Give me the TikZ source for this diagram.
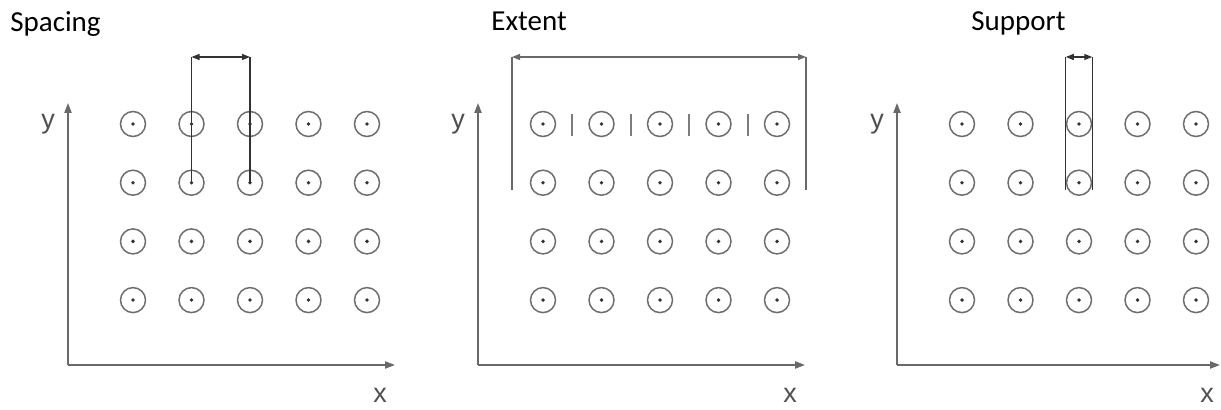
\documentclass[tikz,border=0pt]{standalone}
\usepackage{fontspec}
\setmainfont{Carlito}
\newfontfamily\axfont{Liberation Sans}
\usetikzlibrary{arrows.meta,calc}
\definecolor{ink}{RGB}{50,50,50}
\definecolor{axisc}{RGB}{105,105,105}
\definecolor{ringc}{RGB}{110,110,110}
\definecolor{barc}{RGB}{125,125,125}
\definecolor{axtext}{RGB}{80,80,80}
\tikzset{
  site/.style={circle,draw=ringc,line width=0.75pt,minimum size=12.5pt,inner sep=0pt},
  ax/.style={draw=axisc,line width=0.8pt,-{Triangle[length=5pt,width=3.6pt]}},
  dim/.style={draw=ink,line width=0.7pt},
  dimar/.style={draw=ink,line width=0.7pt,
    {Triangle[length=4pt,width=3pt]}-{Triangle[length=4pt,width=3pt]}},
}
% 5 x 4 grid of sample sites, names #1-col-row
\newcommand{\lattice}[1]{%
  \foreach \col in {1,...,5}{%
    \foreach \row in {1,...,4}{%
      \node[site] (#1-\col-\row) at ({6.5+58.5*\col},{-299.7+58.7*\row}) {};
      \fill[ink] (#1-\col-\row.center) circle (0.95pt);
    }}}

\begin{document}
\begin{tikzpicture}[x=0.5pt,y=-0.5pt,
  ttl/.style={anchor=base west,inner sep=0pt,font=\fontsize{14.5}{17}\selectfont},
  axl/.style={inner sep=0pt,text=axtext,font=\axfont\fontsize{13.5}{15}\selectfont},
  bar/.style={draw=barc,line width=0.8pt}]
  \useasboundingbox (0,0) rectangle (1221,410);
  % titles
  \node[ttl] (tsp) at (10,32)  {Spacing};
  \node[ttl] (tex) at (491,31) {Extent};
  \node[ttl] (tsu) at (971,31) {Support};
  % left panel : spacing
  \begin{scope}[shift={(68,365)}]
    \coordinate (sp-o) at (0,0);
    \coordinate (sp-y) at (0,-262);
    \coordinate (sp-x) at (327,0);
    \coordinate (sp-top) at (0,-308);
    \draw[ax] (sp-o) -- (sp-y);
    \draw[ax] (sp-o) -- (sp-x);
    \node[axl] (sp-ly) at (-20,-241) {y};
    \node[axl] (sp-lx) at (312,30) {x};
    \lattice{sp}
    \draw[dim] (sp-2-2.center) -- (sp-2-2.center |- sp-top) coordinate (sp-l);
    \draw[dim] (sp-3-2.center) -- (sp-3-2.center |- sp-top) coordinate (sp-r);
    \draw[dimar] (sp-l) -- (sp-r);
  \end{scope}
  % middle panel : extent
  \begin{scope}[shift={(478,365)}]
    \coordinate (ex-o) at (0,0);
    \coordinate (ex-y) at (0,-262);
    \coordinate (ex-x) at (327,0);
    \draw[ax] (ex-o) -- (ex-y);
    \draw[ax] (ex-o) -- (ex-x);
    \node[axl] (ex-ly) at (-20,-241) {y};
    \node[axl] (ex-lx) at (312,30) {x};
    \lattice{ex}
    \coordinate (ex-lb) at (34,-175);
    \coordinate (ex-lt) at (34,-308);
    \coordinate (ex-rb) at (328,-175);
    \coordinate (ex-rt) at (328,-308);
    \draw[dim,axisc] (ex-lb) -- (ex-lt);
    \draw[dim,axisc] (ex-rb) -- (ex-rt);
    \draw[dimar,axisc] (ex-lt) -- (ex-rt);
    \foreach \k [count=\n from 2] in {1,...,4}
      \draw[bar] ($(ex-\k-1)!0.5!(ex-\n-1)+(0,-10)$) -- ++(0,22);
  \end{scope}
  % right panel : support
  \begin{scope}[shift={(897,365)}]
    \coordinate (su-o) at (0,0);
    \coordinate (su-y) at (0,-262);
    \coordinate (su-x) at (323,0);
    \coordinate (su-top) at (0,-308);
    \draw[ax] (su-o) -- (su-y);
    \draw[ax] (su-o) -- (su-x);
    \node[axl] (su-ly) at (-20,-241) {y};
    \node[axl] (su-lx) at (310,30) {x};
    \lattice{su}
    \draw[dim] ($(su-3-2.west)+(0,7)$) -- (su-3-2.west |- su-top) coordinate (su-l);
    \draw[dim] ($(su-3-2.east)+(0,7)$) -- (su-3-2.east |- su-top) coordinate (su-r);
    \draw[dimar] (su-l) -- (su-r);
  \end{scope}
\end{tikzpicture}
\end{document}
